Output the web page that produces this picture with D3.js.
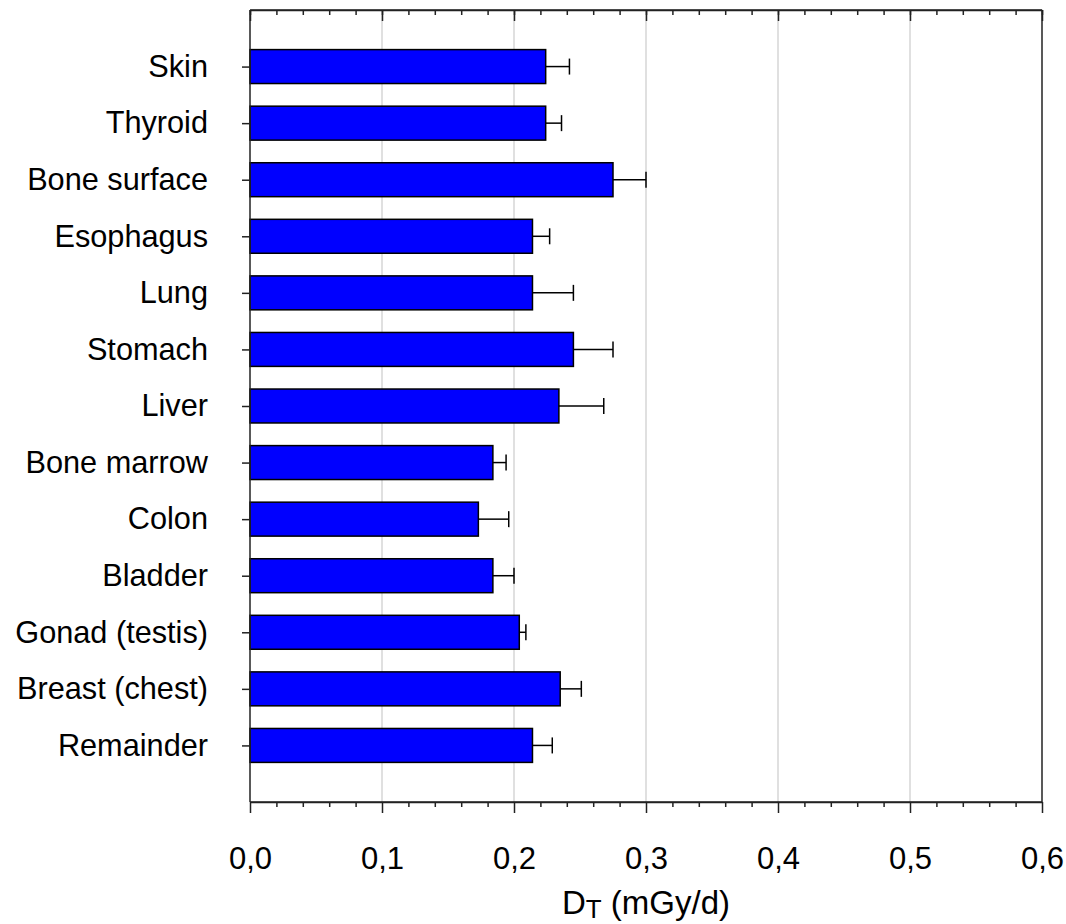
<!DOCTYPE html>
<html>
<head>
<meta charset="utf-8">
<script src="https://cdn.jsdelivr.net/npm/d3@7"></script>
<style>
  html, body { margin: 0; padding: 0; background: #fff; }
  svg { display: block; }
  text { font-family: "Liberation Sans", Arial, sans-serif; fill: #000; }
</style>
</head>
<body>
<svg id="chart" width="1066" height="924"></svg>
<script>
const categories = ["Skin", "Thyroid", "Bone surface", "Esophagus", "Lung", "Stomach", "Liver",
                    "Bone marrow", "Colon", "Bladder", "Gonad (testis)", "Breast (chest)", "Remainder"];
const doseValues = [0.224, 0.224, 0.275, 0.214, 0.214, 0.245, 0.234, 0.184, 0.173, 0.184, 0.204, 0.235, 0.214];
const doseErrors = [0.018, 0.012, 0.025, 0.013, 0.031, 0.030, 0.034, 0.010, 0.023, 0.016, 0.005, 0.016, 0.015];
const xTicks = [0, 0.1, 0.2, 0.3, 0.4, 0.5, 0.6];
const xMinorTicks = d3.range(0, 0.6001, 0.02);
const gridValues = [0.1, 0.2, 0.3, 0.4, 0.5];

const svg = d3.select("#chart");
const L = 250, R = 1042, T = 10, B = 802;

const x = d3.scaleLinear().domain([0, 0.6]).range([L, R]);
const y = d3.scalePoint().domain(categories).range([T, B]).padding(1);
const barH = y.step() * 0.6;

// gridlines
svg.append("g").selectAll("line").data(gridValues).join("line")
  .attr("x1", d => x(d)).attr("x2", d => x(d))
  .attr("y1", T).attr("y2", B)
  .attr("stroke", "#d6d6d6").attr("stroke-width", 1.5);

// bars
svg.append("g").selectAll("rect").data(categories).join("rect")
  .attr("x", x(0))
  .attr("y", d => y(d) - barH / 2)
  .attr("width", (d, i) => x(doseValues[i]) - x(0))
  .attr("height", barH)
  .attr("fill", "#0000ff")
  .attr("stroke", "#000").attr("stroke-width", 1.5);

// error bars
const eg = svg.append("g").attr("stroke", "#000").attr("stroke-width", 1.5);
categories.forEach((c, i) => {
  const xe = x(doseValues[i] + doseErrors[i]);
  eg.append("line").attr("x1", x(doseValues[i])).attr("x2", xe).attr("y1", y(c)).attr("y2", y(c));
  eg.append("line").attr("x1", xe).attr("x2", xe).attr("y1", y(c) - 8).attr("y2", y(c) + 8);
});

// bottom axis (major)
const fmt = d => d3.format(".1f")(d).replace(".", ",");
const bottomMajor = svg.append("g").attr("transform", `translate(0,${B})`)
  .call(d3.axisBottom(x).tickValues(xTicks).tickSize(11).tickSizeOuter(0).tickFormat(fmt).tickPadding(34));
const bottomMinor = svg.append("g").attr("transform", `translate(0,${B})`)
  .call(d3.axisBottom(x).tickValues(xMinorTicks.filter(v => !xTicks.some(t => Math.abs(t - v) < 1e-9))).tickSize(5).tickSizeOuter(0).tickFormat(""));
// top axis (inward ticks)
const topMajor = svg.append("g").attr("transform", `translate(0,${T})`)
  .call(d3.axisBottom(x).tickValues(xTicks).tickSize(11).tickSizeOuter(0).tickFormat(""));
const topMinor = svg.append("g").attr("transform", `translate(0,${T})`)
  .call(d3.axisBottom(x).tickValues(xMinorTicks).tickSize(5).tickSizeOuter(0).tickFormat(""));
// left axis
const leftAxis = svg.append("g").attr("transform", `translate(${L},0)`)
  .call(d3.axisLeft(y).tickSize(8).tickSizeOuter(0).tickPadding(34));
// right border
svg.append("line").attr("x1", R).attr("x2", R).attr("y1", T).attr("y2", B)
  .attr("stroke", "#222").attr("stroke-width", 1.5);

[bottomMajor, bottomMinor, topMajor, topMinor, leftAxis].forEach(g => {
  g.select(".domain").attr("stroke", "#222").attr("stroke-width", 1.5);
  g.selectAll(".tick line").attr("stroke", "#222").attr("stroke-width", 1.5);
  g.selectAll(".tick text").attr("font-family", "Liberation Sans, Arial, sans-serif").attr("fill", "#000");
});
bottomMajor.selectAll(".tick text").attr("font-size", 31);
leftAxis.selectAll(".tick text").attr("font-size", 30.7);
leftAxis.select(".domain").attr("d", `M0,${T}V${B}`);
bottomMajor.select(".domain").attr("d", `M${L},0H${R}`);
topMajor.select(".domain").attr("d", `M${L},0H${R}`);

// x axis title
const title = svg.append("text")
  .attr("x", (L + R) / 2).attr("y", 914)
  .attr("text-anchor", "middle").attr("font-size", 33);
title.append("tspan").text("D");
title.append("tspan").attr("font-size", 26).attr("dy", 4).text("T");
title.append("tspan").attr("dy", -4).text(" (mGy/d)");
</script>
</body>
</html>
